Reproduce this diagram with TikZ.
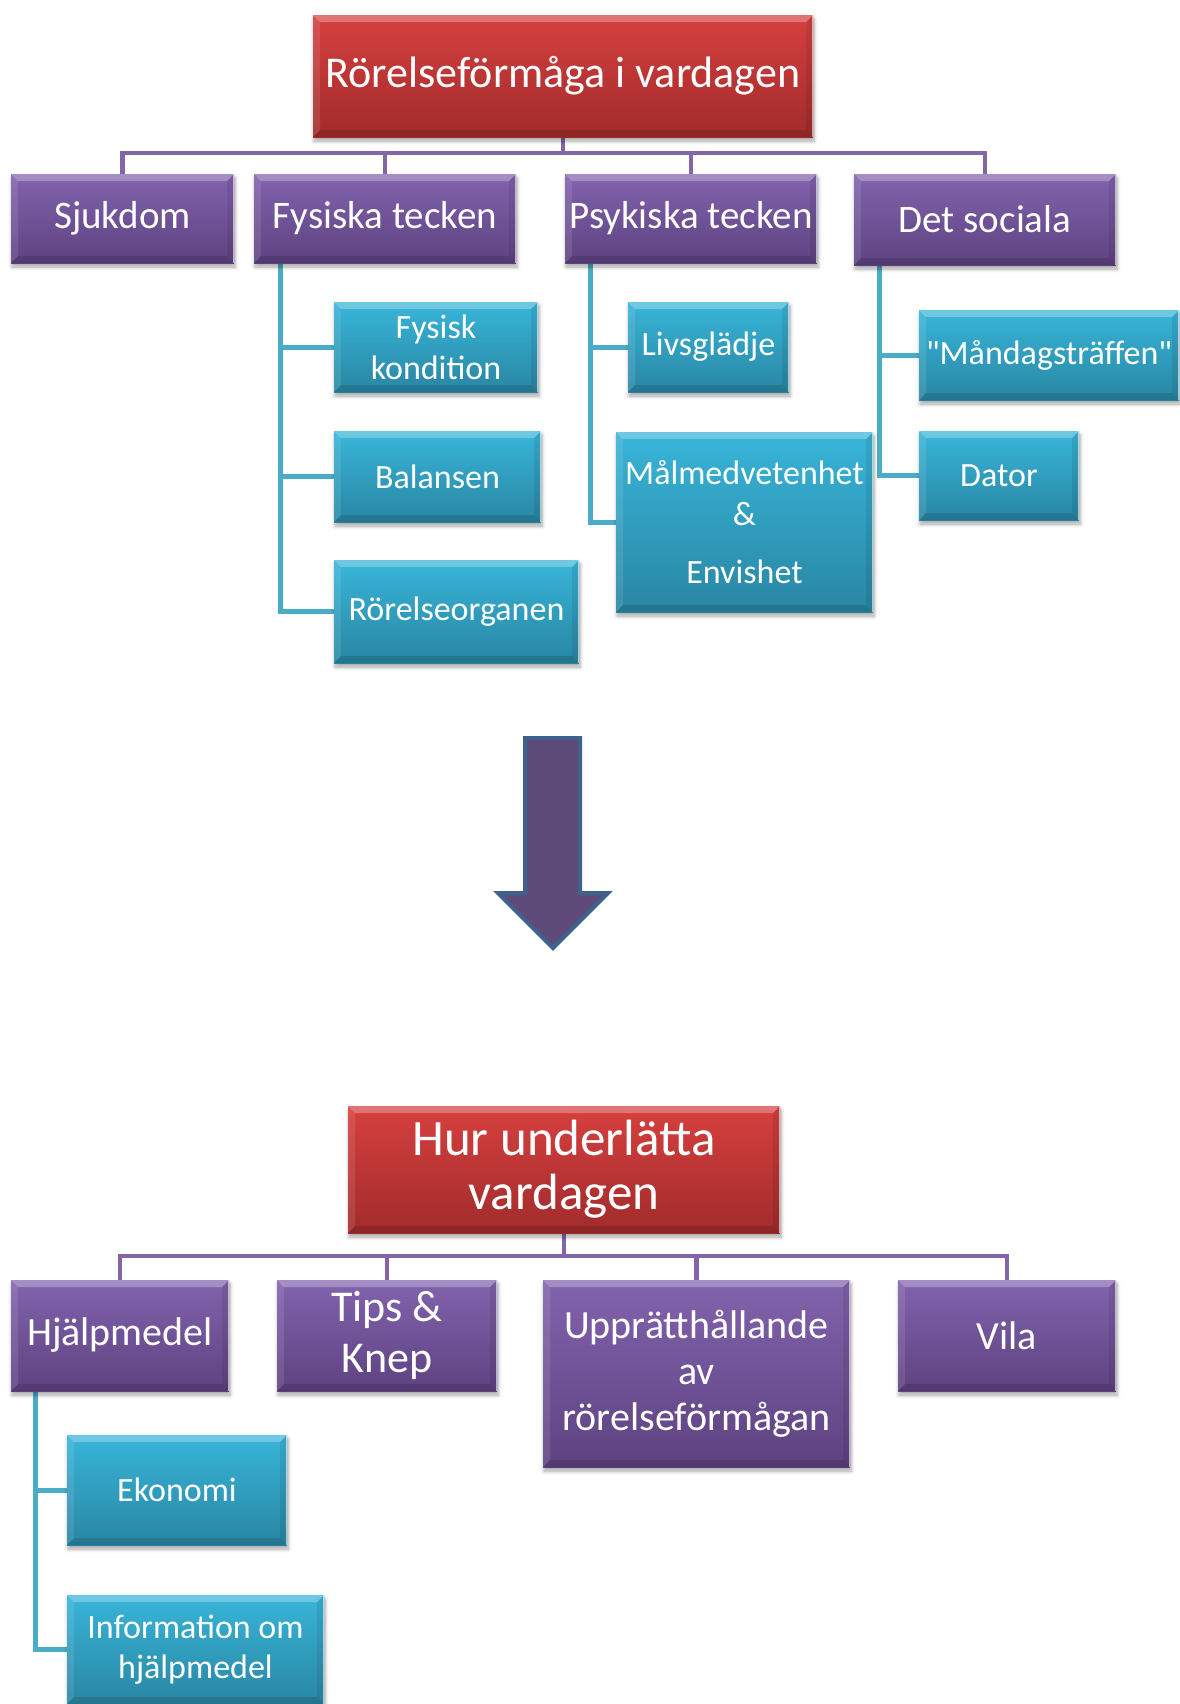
\documentclass[tikz,border=0pt]{standalone}
\usepackage{fontspec}
\setmainfont{Carlito}
\newfontfamily\plainq{Carlito}
\usetikzlibrary{shadows.blur,backgrounds}
\definecolor{redtop}{HTML}{D6403F}
\definecolor{redbot}{HTML}{A12B2B}
\definecolor{purtop}{HTML}{8263AE}
\definecolor{purbot}{HTML}{5E4280}
\definecolor{teltop}{HTML}{38B5D9}
\definecolor{telbot}{HTML}{2986A3}
\definecolor{purline}{HTML}{8366AA}
\definecolor{telline}{HTML}{4BACC6}
\definecolor{arrfill}{HTML}{5E4B7A}
\definecolor{arrline}{HTML}{3F628D}
\newcommand\mkbox[7]{\node[#2, minimum width={(#5-#3)*0.5pt}, minimum height={(#6-#4)*0.5pt}] (#1) at ({(#3+#5)/2},{(#4+#6)/2}) {#7};}
\tikzset{
  basebox/.style={rectangle, inner sep=0pt, align=center, text=white,
    blur shadow={shadow xshift=0.5pt, shadow yshift=-2pt, shadow blur steps=6, shadow opacity=35},
    path picture={
      \fill[white,opacity=0.28] (path picture bounding box.north west) -- (path picture bounding box.north east)
        -- ([xshift=-3.5pt,yshift=-3.5pt]path picture bounding box.north east) -- ([xshift=3.5pt,yshift=-3.5pt]path picture bounding box.north west) -- cycle;
      \fill[white,opacity=0.10] (path picture bounding box.north west) -- ([xshift=3.5pt,yshift=-3.5pt]path picture bounding box.north west)
        -- ([xshift=3.5pt,yshift=3.5pt]path picture bounding box.south west) -- (path picture bounding box.south west) -- cycle;
      \fill[black,opacity=0.12] (path picture bounding box.south west) -- (path picture bounding box.south east)
        -- ([xshift=-3.5pt,yshift=3.5pt]path picture bounding box.south east) -- ([xshift=3.5pt,yshift=3.5pt]path picture bounding box.south west) -- cycle;
      \fill[black,opacity=0.08] (path picture bounding box.north east) -- ([xshift=-3.5pt,yshift=-3.5pt]path picture bounding box.north east)
        -- ([xshift=-3.5pt,yshift=3.5pt]path picture bounding box.south east) -- (path picture bounding box.south east) -- cycle;
      \draw[white,opacity=0.6,line width=0.6pt] ([xshift=-0.3pt]path picture bounding box.north east) -- ([xshift=-0.3pt]path picture bounding box.south east);
    }},
  redbox/.style={basebox, top color=redtop, bottom color=redbot},
  purbox/.style={basebox, top color=purtop, bottom color=purbot},
  telbox/.style={basebox, top color=teltop, bottom color=telbot, font=\fontsize{17}{20.5}\selectfont},
  pline/.style={draw=purline, line width=2.3pt},
  tline/.style={draw=telline, line width=2.5pt}
}
\begin{document}
\begin{tikzpicture}[x=0.5pt,y=-0.5pt]
\useasboundingbox (0,0) rectangle (1179,1704);
% ---------- top tree ----------
\mkbox{r1}{redbox, font=\fontsize{22}{26}\selectfont}{313}{15}{813}{137}{Rörelseförmåga i vardagen}
\mkbox{sjuk}{purbox, font=\fontsize{19.5}{23}\selectfont}{11}{174}{234}{263}{Sjukdom}
\mkbox{fys}{purbox, font=\fontsize{19.5}{23}\selectfont}{254}{174}{516}{263}{Fysiska tecken}
\mkbox{psy}{purbox, font=\fontsize{19.5}{23}\selectfont}{565}{174}{817}{263}{Psykiska tecken}
\mkbox{soc}{purbox, font=\fontsize{19.5}{23}\selectfont}{854}{174}{1116}{265}{Det sociala}
\mkbox{fk}{telbox}{334}{302}{538}{392}{Fysisk\\kondition}
\mkbox{bal}{telbox}{334}{431}{541}{522}{Balansen}
\mkbox{ror}{telbox}{334}{560}{579}{663}{Rörelseorganen}
\mkbox{liv}{telbox}{628}{302}{789}{392}{Livsglädje}
\mkbox{mal}{telbox}{616}{432}{873}{612}{Målmedvetenhet\\\&\\[8.5pt]Envishet}
\mkbox{man}{telbox}{919}{310}{1179}{400}{{\plainq"Måndagsträffen"}}
\mkbox{dat}{telbox}{919}{431}{1079}{520}{Dator}
% ---------- arrow ----------
\draw[fill=arrfill, draw=arrline, line width=2pt, line join=miter]
  (525,738) -- (580,738) -- (580,893) -- (608,893) -- (553,948) -- (498,893) -- (525,893) -- cycle;
% ---------- bottom tree ----------
\mkbox{r2}{redbox, font=\fontsize{25.5}{27}\selectfont}{348}{1106}{780}{1233}{Hur underlätta\\vardagen}
\mkbox{hj}{purbox, font=\fontsize{20}{23}\selectfont}{11}{1280}{229}{1391}{Hjälpmedel}
\mkbox{tips}{purbox, font=\fontsize{22}{25.5}\selectfont}{277}{1280}{497}{1391}{Tips \&\\Knep}
\mkbox{upp}{purbox, font=\fontsize{20}{23}\selectfont}{543}{1280}{850}{1467}{Upprätthållande\\av\\rörelseförmågan}
\mkbox{vila}{purbox, font=\fontsize{20}{23}\selectfont}{898}{1280}{1116}{1391}{Vila}
\mkbox{eko}{telbox}{67}{1435}{287}{1545}{Ekonomi}
\mkbox{info}{telbox, font=\fontsize{17}{20}\selectfont}{67}{1595}{324}{1704}{Information om\\hjälpmedel}
% ---------- connectors ----------
\begin{scope}[on background layer]
\coordinate (b1) at (563,153);
\foreach \c in {sjuk,fys,psy,soc} \draw[pline] (r1.south) -- (b1) -| (\c.north);
\coordinate (b2) at (564,1256);
\foreach \c in {hj,tips,upp,vila} \draw[pline] (r2.south) -- (b2) -| (\c.north);
\coordinate (fv) at (280,263);
\foreach \c in {fk,bal,ror} \draw[tline] (fv) |- (\c.west);
\coordinate (pv) at (590,263);
\foreach \c in {liv,mal} \draw[tline] (pv) |- (\c.west);
\coordinate (sv) at (879,265);
\foreach \c in {man,dat} \draw[tline] (sv) |- (\c.west);
\coordinate (hv) at (35,1391);
\foreach \c in {eko,info} \draw[tline] (hv) |- (\c.west);
\end{scope}
\end{tikzpicture}
\end{document}
